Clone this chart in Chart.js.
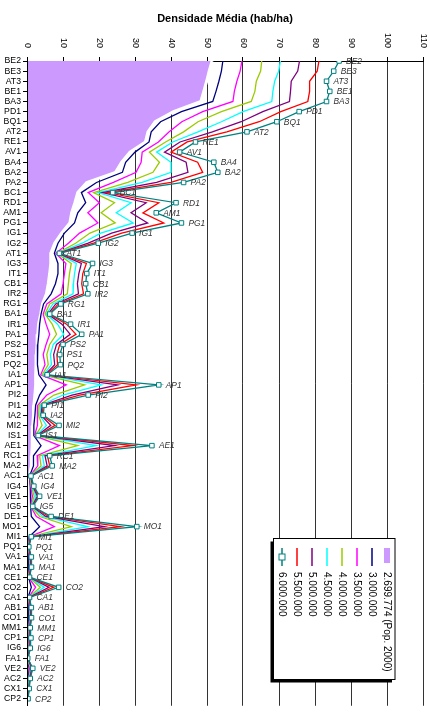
<!DOCTYPE html>
<html>
<head>
<meta charset="utf-8">
<title>Densidade Média</title>
<script src="https://cdn.jsdelivr.net/npm/chart.js@4.4.1/dist/chart.umd.min.js"></script>
<style>
  body { margin: 0; background: #fff; overflow: hidden; }
  canvas { display: block; }
</style>
</head>
<body>
<canvas id="myChart" width="430" height="713"></canvas>
<script>
let chartTitle = 'Densidade Média (hab/ha)';

let categories = [
  'BE2','BE3','AT3','BE1','BA3','PD1','BQ1','AT2',
  'RE1','AV1','BA4','BA2','PA2','BC1','RD1','AM1',
  'PG1','IG1','IG2','AT1','IG3','IT1','CB1','IR2',
  'RG1','BA1','IR1','PA1','PS2','PS1','PQ2','IA1',
  'AP1','PI2','PI1','IA2','MI2','IS1','AE1','RC1',
  'MA2','AC1','IG4','VE1','IG5','DE1','MO1','MI1',
  'PQ1','VA1','MA1','CE1','CO2','CA1','AB1','CO1',
  'MM1','CP1','IG6','FA1','VE2','AC2','CX1','CP2'
];

let xTicks = [0, 10, 20, 30, 40, 50, 60, 70, 80, 90, 100, 110];

let seriesNames = ['2.699.774 (Pop. 2000)', '3.000.000', '3.500.000', '4.000.000',
  '4.500.000', '5.000.000', '5.500.000', '6.000.000'];
let seriesColors = ['#cc99ff', '#000080', '#ff00ff', '#99cc00', '#00ffff', '#800080', '#ff0000', '#008080'];

let pop2000 = [
  51.4,50.6,49.9,49.1,48.3,40.7,35.6,33.6,
  32.9,28.6,26.3,24.6,16.6,14.1,13.3,12.4,
  11.9,9.6,7.7,6.6,6.6,6.3,5.9,5.4,
  4.3,3.8,3.2,3.0,2.8,2.6,2.5,2.4,
  2.4,2.2,1.9,1.8,1.6,1.5,1.4,1.3,
  1.2,0.7,0.8,0.8,0.7,0.7,0.7,0.5,
  0.3,0.3,0.3,0.3,0.3,0.3,0.3,0.3,
  0.3,0.3,0.3,0.2,0.3,0.3,0.2,0.2
];
let p3000 = [
  54.4,54.0,53.3,52.5,51.6,42.9,37.1,34.5,
  33.9,30.0,27.4,26.5,19.3,15.1,16.3,14.1,
  13.2,10.4,8.6,7.6,8.6,8.6,7.9,6.7,
  4.6,3.9,3.5,3.3,3.0,2.8,3.0,3.3,
  5.3,3.5,2.4,2.2,1.9,1.9,3.9,1.8,
  1.8,0.7,0.9,1.1,0.9,1.2,3.5,0.6,
  0.3,0.5,0.5,0.3,1.2,0.3,0.5,0.5,
  0.35,0.45,0.35,0.1,0.6,0.35,0.25,0.15
];
let p3500 = [
  59.7,59.2,58.3,57.6,57.2,48.8,43.0,39.5,
  36.5,32.0,31.7,30.3,24.0,17.0,20.1,16.9,
  19.7,14.6,11.5,8.0,10.8,10.4,10.0,9.5,
  5.5,4.5,5.3,6.3,5.3,4.5,5.0,3.8,
  10.9,5.5,3.0,2.8,3.0,2.1,9.0,2.8,
  3.0,0.75,1.0,1.5,1.0,2.6,7.6,0.7,
  0.35,0.65,0.7,0.4,2.4,0.4,0.65,0.7,
  0.45,0.6,0.45,0.12,0.8,0.45,0.3,0.18
];
let p4000 = [
  65.2,64.9,63.7,63.3,62.3,54.0,47.5,43.5,
  38.5,34.0,36.8,35.0,28.0,18.5,24.3,20.6,
  24.5,17.5,13.5,8.3,12.3,11.8,11.5,11.2,
  6.3,5.0,7.0,8.2,6.3,5.5,5.9,4.2,
  16.0,7.5,3.4,3.2,4.2,2.3,14.1,3.5,
  3.9,0.8,1.2,2.0,1.1,3.5,12.3,0.8,
  0.4,0.8,0.8,0.45,3.7,0.45,0.8,0.8,
  0.55,0.7,0.55,0.14,1.0,0.55,0.4,0.2
];
let p4500 = [
  70.4,69.9,68.8,68.3,68.0,60.0,54.0,47.5,
  40.5,36.0,40.0,40.0,32.0,19.8,28.9,24.8,
  29.5,20.5,15.3,8.5,13.7,13.2,12.9,12.8,
  7.2,5.4,8.5,10.2,7.3,6.5,6.8,4.6,
  20.6,10.0,3.8,3.6,5.4,2.6,19.2,4.3,
  4.8,0.9,1.4,2.5,1.25,4.4,16.9,0.9,
  0.42,0.9,0.95,0.5,4.8,0.5,0.9,0.95,
  0.65,0.8,0.65,0.16,1.2,0.65,0.45,0.23
];
let p5000 = [
  75.7,75.2,73.4,73.2,72.9,65.5,59.5,51.5,
  42.5,38.2,44.2,44.7,36.0,21.0,33.1,28.9,
  33.5,23.5,17.0,8.7,15.1,14.4,14.0,14.3,
  8.0,5.8,9.7,12.0,8.2,7.4,7.7,5.0,
  25.2,12.5,4.2,3.9,6.6,2.8,24.3,5.0,
  5.6,1.0,1.6,2.9,1.4,5.2,21.5,1.0,
  0.45,1.0,1.05,0.6,6.1,0.6,1.0,1.05,
  0.75,0.9,0.75,0.18,1.35,0.75,0.5,0.26
];
let p5500 = [
  81.1,80.6,78.5,78.5,78.0,70.5,64.5,55.5,
  44.5,40.0,47.4,48.8,40.0,22.3,36.6,32.2,
  38.0,26.3,18.5,8.8,16.5,15.5,15.2,15.7,
  8.7,6.1,11.0,13.6,9.1,8.3,8.5,5.3,
  30.3,14.6,4.5,4.2,7.8,3.0,29.4,5.7,
  6.3,1.05,1.75,3.2,1.5,6.0,25.9,1.1,
  0.48,1.1,1.15,0.65,7.4,0.65,1.1,1.15,
  0.85,1.0,0.85,0.19,1.5,0.85,0.55,0.28
];
let p6000 = [
  86.7,85.2,83.2,84.1,83.2,75.6,69.4,61.1,
  46.8,42.4,51.9,53.0,43.5,23.8,41.4,35.9,
  42.9,29.2,19.8,9.0,18.2,16.6,16.3,16.9,
  9.4,6.3,12.1,15.2,10.0,9.1,9.3,5.6,
  36.6,17.0,4.8,4.5,8.9,3.1,34.7,6.3,
  7.0,1.1,1.9,3.5,1.6,6.7,30.5,1.2,
  0.5,1.2,1.25,0.7,8.8,0.7,1.2,1.25,
  0.9,1.1,0.9,0.2,1.6,0.9,0.6,0.3
];

let font = '"Liberation Sans", Arial, sans-serif';

function toPoints(arr) {
  return arr.map((v, i) => ({x: v, y: i}));
}

let datasets = [{
  label: seriesNames[0],
  data: toPoints(pop2000),
  fill: 'origin',
  backgroundColor: seriesColors[0],
  borderColor: '#ffffff',
  borderWidth: 3,
  pointRadius: 0,
  order: 9
}];

let lineSeries = [p3000, p3500, p4000, p4500, p5000, p5500];
lineSeries.forEach((arr, k) => {
  datasets.push({
    label: seriesNames[k + 1],
    data: toPoints(arr),
    fill: false,
    borderColor: seriesColors[k + 1],
    borderWidth: 1.3,
    pointRadius: 0,
    order: 7 - k
  });
});

datasets.push({
  label: seriesNames[7],
  data: toPoints(p6000),
  fill: false,
  borderColor: seriesColors[7],
  borderWidth: 1.3,
  pointStyle: 'rect',
  pointRadius: 3.2,
  pointBorderWidth: 1,
  pointBackgroundColor: '#ffffff',
  pointBorderColor: seriesColors[7],
  order: 0
});

// title, rotated x labels, point labels and the rotated legend
let decor = {
  id: 'decor',
  afterDatasetsDraw(chart) {
    let ctx = chart.ctx;
    let meta = chart.getDatasetMeta(datasets.length - 1);
    ctx.save();
    ctx.font = 'italic 8.4px ' + font;
    ctx.fillStyle = '#333';
    ctx.textAlign = 'left';
    ctx.textBaseline = 'middle';
    meta.data.forEach((pt, i) => {
      ctx.fillText(categories[i], pt.x + 7, pt.y + 0.5);
    });
    ctx.restore();
  },
  afterDraw(chart) {
    let ctx = chart.ctx;
    let area = chart.chartArea;
    let xs = chart.scales.x;
    ctx.save();
    ctx.fillStyle = '#000';
    ctx.font = 'bold 11px ' + font;
    ctx.textAlign = 'center';
    ctx.textBaseline = 'middle';
    ctx.fillText(chartTitle, (area.left + area.right) / 2, 19);

    ctx.font = '9px ' + font;
    xTicks.forEach(v => {
      ctx.save();
      ctx.translate(xs.getPixelForValue(v) + 0.5, 48);
      ctx.rotate(Math.PI / 2);
      ctx.textAlign = 'right';
      ctx.textBaseline = 'middle';
      ctx.fillText(String(v), 0, 0);
      ctx.restore();
    });

    // legend box
    let bx = 273.5, by = 538.5, bw = 121.5, bh = 141;
    ctx.fillStyle = '#000';
    ctx.fillRect(bx - 3, by + 3, bw, bh);
    ctx.fillStyle = '#fff';
    ctx.fillRect(bx, by, bw, bh);
    ctx.strokeStyle = '#000';
    ctx.lineWidth = 1;
    ctx.strokeRect(bx, by, bw, bh);

    seriesNames.forEach((name, i) => {
      let cx = bx + bw - 8 - i * 15;
      if (i === 0) {
        ctx.fillStyle = seriesColors[0];
        ctx.fillRect(cx - 3, 548, 6, 15);
      } else {
        ctx.strokeStyle = seriesColors[i];
        ctx.lineWidth = 1.5;
        ctx.beginPath();
        ctx.moveTo(cx, 548);
        ctx.lineTo(cx, 566);
        ctx.stroke();
        if (i === seriesNames.length - 1) {
          ctx.fillStyle = '#fff';
          ctx.lineWidth = 1;
          ctx.fillRect(cx - 3, 554, 6, 6);
          ctx.strokeRect(cx - 3, 554, 6, 6);
        }
      }
      ctx.save();
      ctx.translate(cx, 572);
      ctx.rotate(Math.PI / 2);
      ctx.fillStyle = '#000';
      ctx.font = '10px ' + font;
      ctx.textAlign = 'left';
      ctx.textBaseline = 'middle';
      ctx.fillText(name, 0, 0);
      ctx.restore();
    });
    ctx.restore();
  }
};

let ctx = document.getElementById('myChart').getContext('2d');
let myChart = new Chart(ctx, {
  type: 'line',
  data: { datasets: datasets },
  plugins: [decor],
  options: {
    responsive: false,
    animation: false,
    indexAxis: 'y',
    layout: { padding: { top: 0, left: 0, right: 7, bottom: 0 } },
    elements: { line: { tension: 0 } },
    plugins: {
      legend: { display: false },
      tooltip: { enabled: false },
      title: { display: false }
    },
    scales: {
      x: {
        type: 'linear',
        position: 'top',
        min: 0,
        max: 110,
        ticks: { display: false, stepSize: 10 },
        grid: { color: '#333', tickColor: '#000', tickLength: 4 },
        border: { color: '#000' },
        afterFit: s => { s.height = 61; }
      },
      y: {
        type: 'linear',
        reverse: true,
        min: 0,
        max: categories.length - 0.3,
        ticks: {
          stepSize: 1,
          autoSkip: false,
          includeBounds: false,
          padding: 2,
          color: '#000',
          font: { family: font, size: 8.7 },
          callback: v => Number.isInteger(v) ? categories[v] : ''
        },
        grid: { drawOnChartArea: false, color: '#000', tickLength: 4 },
        border: { color: '#000', z: 1 },
        afterFit: s => { s.width = 27; }
      }
    }
  }
});
</script>
</body>
</html>
